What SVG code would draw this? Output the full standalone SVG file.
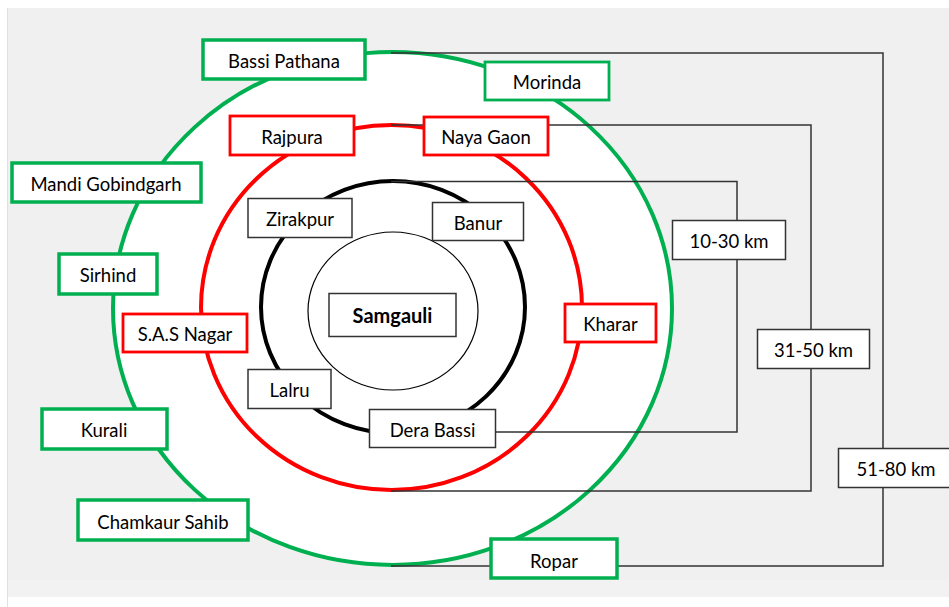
<svg xmlns="http://www.w3.org/2000/svg" width="949" height="607" viewBox="0 0 949 607">
<style>
text{font-family:Lato,"Open Sans","Liberation Sans",sans-serif;font-size:18.5px;fill:#000;text-anchor:middle}
.g rect{fill:#fff;stroke:#00b050;stroke-width:3.5}
.r rect{fill:#fff;stroke:#ff0000;stroke-width:2.8}
.k rect{fill:#fff;stroke:#333;stroke-width:1.5}
.ln{fill:none;stroke:#333;stroke-width:1.5}
</style>
<rect x="0" y="0" width="949" height="607" fill="#fff"/>
<rect x="7" y="8" width="942" height="589" fill="#f0f0f0"/>
<rect x="7" y="580" width="942" height="17" fill="#f2f2f2"/>
<line x1="7.5" y1="8" x2="7.5" y2="607" stroke="#e0e0e0" stroke-width="1"/>
<g id="rings">
<ellipse cx="392.5" cy="308.5" rx="279.5" ry="256.5" fill="#fff" stroke="#00b050" stroke-width="4"/>
<ellipse cx="391.5" cy="307.5" rx="190.5" ry="182.5" fill="none" stroke="#ff0000" stroke-width="4"/>
<ellipse cx="393" cy="307" rx="132" ry="126" fill="none" stroke="#000" stroke-width="4"/>
<ellipse cx="393" cy="311" rx="85" ry="79" fill="none" stroke="#000" stroke-width="1.2"/>
</g>
<g id="connectors">
<polyline class="ln" points="391,53 883,53 883,566 391,566"/>
<polyline class="ln" points="391,125 811,125 811,491 391,491"/>
<polyline class="ln" points="391,181.5 737,181.5 737,432 496,432"/>
</g>
<g id="bassi-pathana" class="g"><rect x="203" y="40" width="162" height="39"/><text x="284" y="68">Bassi Pathana</text></g>
<g id="morinda" class="g"><rect x="485" y="62" width="124" height="38" style="stroke-width:2.8"/><text x="547" y="89">Morinda</text></g>
<g id="mandi-gobindgarh" class="g"><rect x="12" y="163" width="189" height="39"/><text x="106" y="191">Mandi Gobindgarh</text></g>
<g id="sirhind" class="g"><rect x="59" y="254" width="98" height="40"/><text x="108" y="282">Sirhind</text></g>
<g id="kurali" class="g"><rect x="42" y="409" width="125" height="40"/><text x="104" y="437">Kurali</text></g>
<g id="chamkaur-sahib" class="g"><rect x="78" y="500" width="170" height="40"/><text x="163" y="529">Chamkaur Sahib</text></g>
<g id="ropar" class="g"><rect x="491" y="539" width="126" height="39"/><text x="554" y="568">Ropar</text></g>
<g id="rajpura" class="r"><rect x="230" y="116" width="124" height="39"/><text x="292" y="144">Rajpura</text></g>
<g id="naya-gaon" class="r"><rect x="424" y="117" width="124" height="38"/><text x="486" y="144">Naya Gaon</text></g>
<g id="sas-nagar" class="r"><rect x="123" y="314" width="124" height="38"/><text x="185" y="341">S.A.S Nagar</text></g>
<g id="kharar" class="r"><rect x="565" y="304" width="91" height="38"/><text x="610.5" y="331">Kharar</text></g>
<g id="zirakpur" class="k"><rect x="248" y="198.5" width="104" height="39"/><text x="300" y="226">Zirakpur</text></g>
<g id="banur" class="k"><rect x="432.5" y="202.5" width="91" height="38"/><text x="478" y="230">Banur</text></g>
<g id="samgauli" class="k"><rect x="329" y="293.5" width="127" height="43"/><text x="392.5" y="323" style="font-weight:bold;font-size:20px">Samgauli</text></g>
<g id="lalru" class="k"><rect x="248" y="369.5" width="83" height="39"/><text x="289.5" y="397">Lalru</text></g>
<g id="dera-bassi" class="k"><rect x="369.5" y="409.5" width="126" height="38"/><text x="432.5" y="437">Dera Bassi</text></g>
<g id="km-10-30" class="k"><rect x="672.5" y="220.5" width="113" height="39"/><text x="729" y="248">10-30 km</text></g>
<g id="km-31-50" class="k"><rect x="757.5" y="329.5" width="112" height="39"/><text x="813.5" y="357">31-50 km</text></g>
<g id="km-51-80" class="k"><rect x="838.5" y="448.5" width="120" height="39"/><text x="896" y="476">51-80 km</text></g>
</svg>
